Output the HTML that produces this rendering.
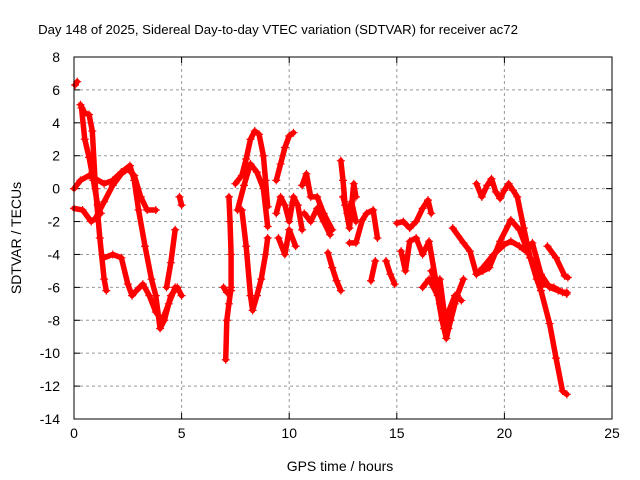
<!DOCTYPE html>
<html><head><meta charset="utf-8"><style>
body{margin:0;background:#fff}
svg{display:block;font-family:"Liberation Sans",sans-serif}
</style></head><body>
<svg id="chart" width="640" height="480">
<rect width="640" height="480" fill="#fff"/>
<text x="278" y="34" font-size="13.2" text-anchor="middle">Day 148 of 2025, Sidereal Day-to-day VTEC variation (SDTVAR) for receiver ac72</text>
<g id="grid"></g>
<g id="ticks"></g>
<g id="marks"></g>
<rect x="74" y="57" width="538" height="362" fill="none" stroke="#000" stroke-width="1"/>
<text x="340" y="471" font-size="14" text-anchor="middle">GPS time / hours</text>
<text transform="translate(21,238) rotate(-90)" font-size="14" text-anchor="middle">SDTVAR / TECUs</text>
</svg>
<script>
const xTicks=[0,5,10,15,20,25];
const yTicks=[8,6,4,2,0,-2,-4,-6,-8,-10,-12,-14];
const trackTimes=[
[0,0.4,0.8,1.0,1.4,1.8,2.2,2.5,2.8,3.1,3.4,3.8],
[0,0.3,0.7,1.0,1.4,1.8,2.2,2.6,2.8,3.0,3.3,3.6,3.8,4.0,4.2,4.5,4.8,5.0],
[0.05,0.15],
[0.3,0.5,0.7,0.85,1.0,1.2,1.4,1.5],
[0.35,0.5,0.7,0.9,1.1,1.25],
[1.4,1.8,2.2,2.5,2.7,2.9,3.2,3.5,3.8,4.1,4.4,4.7],
[4.3,4.5,4.7],
[4.9,5.0],
[7.2,7.25,7.3,7.3,7.2,7.1,7.05],
[6.95,7.1,7.3],
[7.5,7.8,8.0,8.2,8.4,8.6,8.8,8.9,9.0],
[7.6,7.9,8.2,8.5,8.8,9.0],
[7.8,8.0,8.2,8.3,8.5,8.7,8.9,9.0],
[9.4,9.6,9.8,10.0,10.2],
[9.4,9.6,9.8,10.0,10.2,10.4,10.6],
[9.5,9.8,10.0,10.3],
[10.6,10.8,11.0,11.3,11.6,12.0],
[10.7,11.0,11.3,11.6,11.9],
[11.8,12.0,12.2,12.4],
[12.4,12.5,12.6,12.8,13.0,13.1],
[12.5,12.7,12.9,13.1],
[12.8,13.1,13.4,13.6,13.9,14.1],
[13.8,14.0],
[14.5,14.7,14.9],
[15.0,15.3,15.6,15.9,16.2,16.45,16.6],
[15.2,15.4,15.6,15.9,16.2,16.5,16.8],
[16.2,16.5,16.9,17.1,17.3,17.5,17.8,18.1],
[16.6,16.9,17.0,17.2,17.4,17.7,18.0],
[17.0,17.2,17.4,17.7],
[17.6,18.1,18.4,18.7,19.0,19.3,19.8,20.3,20.7,21.2,21.8,22.3,22.7,22.9],
[18.7,19.0,19.5,20.0,20.3,20.7,21.0,21.3,21.7,22.1,22.5,22.9],
[18.7,18.95,19.2,19.4,19.6,19.8,20.0,20.2,20.4,20.6,20.9,21.2,21.5,21.7,22.1,22.4,22.7,22.9],
[22.0,22.4,22.8,22.95]
];
const trackValues=[
[-1.2,-1.3,-2.0,-1.8,-0.8,0.2,0.9,1.2,0.8,-0.5,-1.3,-1.3],
[0,0.5,0.8,0.6,0.3,0.5,1.0,1.4,0.5,-1.3,-3.5,-5.5,-6.5,-8.5,-8.0,-6.5,-6.0,-6.5],
[6.3,6.5],
[5.1,4.6,4.5,3.5,0,-3,-5.5,-6.2],
[4.9,3.0,1.9,0.5,-1.0,-1.5],
[-4.2,-4.0,-4.2,-5.8,-6.5,-6.2,-5.8,-6.5,-7.5,-8,-7,-6],
[-6.0,-4.5,-2.5],
[-0.5,-1.0],
[-0.5,-2,-4,-6,-7,-8,-10.4],
[-6,-6.3,-6.2],
[0.3,0.8,1.8,3.0,3.5,3.3,2.0,0.5,-1.1],
[-1.3,0.2,1.5,1.0,0,-2.3],
[-1.3,-3.5,-6.5,-7.4,-6.5,-5.5,-4,-3],
[0.5,1.5,2.5,3.2,3.4],
[-1.5,-0.5,-1.0,-2,-0.5,-1.0,-2.5],
[-3,-4,-2.5,-3.5],
[0.2,0.9,-0.5,-0.5,-1.5,-2.5],
[-1.5,-2.0,-1.2,-2.0,-2.8],
[-3.9,-4.8,-5.6,-6.2],
[1.7,0.5,-1,-2.4,0.3,-0.5],
[-0.5,-1.5,-0.8,-2.0],
[-3.3,-3.3,-1.9,-1.5,-1.3,-3.0],
[-5.6,-4.4],
[-4.4,-5.2,-5.8],
[-2.1,-2.0,-2.4,-2.0,-1.2,-0.7,-1.5],
[-3.8,-5.0,-3.2,-3.0,-4.0,-3.2,-5.5],
[-6.0,-5.5,-6.5,-8.0,-9.1,-8.0,-6.5,-5.5],
[-5.0,-6.0,-7.0,-8.5,-7.5,-6.5,-6.8],
[-5.5,-7.5,-8.5,-7.0],
[-2.4,-3.3,-3.8,-5.2,-5.0,-4.8,-3.2,-1.9,-2.5,-4.2,-5.8,-6.0,-6.3,-6.3],
[-5.2,-4.8,-4.0,-3.4,-3.2,-3.5,-3.8,-3.3,-5.2,-6.0,-6.2,-6.4],
[0.3,-0.5,0.2,0.6,-0.2,-0.6,-0.1,0.3,-0.1,-0.5,-2.4,-4.2,-5.5,-6.2,-8.2,-10.3,-12.3,-12.5],
[-3.5,-4.2,-5.3,-5.4]
];
const NS='http://www.w3.org/2000/svg';
const L=74,R=612,T=57,B=419;
function xs(t){return L+(t-0)/25*(R-L);}
function ys(v){return T+(8-v)/22*(B-T);}
const grid=document.getElementById('grid'),ticks=document.getElementById('ticks'),marks=document.getElementById('marks');
function mk(tag,attrs,parent){const e=document.createElementNS(NS,tag);for(const k in attrs)e.setAttribute(k,attrs[k]);parent.appendChild(e);return e;}
xTicks.forEach(t=>{
  const x=xs(t);
  if(t>0&&t<25){const g=mk('line',{x1:x,x2:x,y1:T,y2:B,stroke:'#999','stroke-dasharray':'3,3'},grid);
  
  }
  mk('line',{x1:x,x2:x,y1:B,y2:B-6,stroke:'#000'},ticks);
  mk('line',{x1:x,x2:x,y1:T,y2:T+6,stroke:'#000'},ticks);
  const lb=mk('text',{x:x,y:B+19,'font-size':14,'text-anchor':'middle'},ticks);
  lb.textContent=t;
  
  
});
yTicks.forEach(v=>{
  const y=ys(v);
  if(v<8&&v>-14){const g=mk('line',{x1:L,x2:R,y1:y,y2:y,stroke:'#999','stroke-dasharray':'3,3'},grid);
  
  }
  mk('line',{x1:L,x2:L+6,y1:y,y2:y,stroke:'#000'},ticks);
  mk('line',{x1:R,x2:R-6,y1:y,y2:y,stroke:'#000'},ticks);
  const lb=mk('text',{x:L-14,y:y+5,'font-size':14,'text-anchor':'end'},ticks);
  lb.textContent=v;
  
  
});
trackTimes.forEach((ts,i)=>{
  const vs=trackValues[i];
  const g=mk('g',{},marks);
  
  
  const pts=ts.map((t,j)=>xs(t)+','+ys(vs[j])).join(' ');
  mk('polyline',{points:pts,fill:'none',stroke:'#f00','stroke-width':5.5,'stroke-linejoin':'round','stroke-linecap':'round'},g);
  ts.forEach((t,j)=>{
    const x=xs(t),y=ys(vs[j]);
    const p=mk('path',{d:`M${x-4},${y}H${x+4}M${x},${y-4}V${y+4}`,stroke:'#f00','stroke-width':1.2},g);
    
    
  });
});
</script>
</body></html>
